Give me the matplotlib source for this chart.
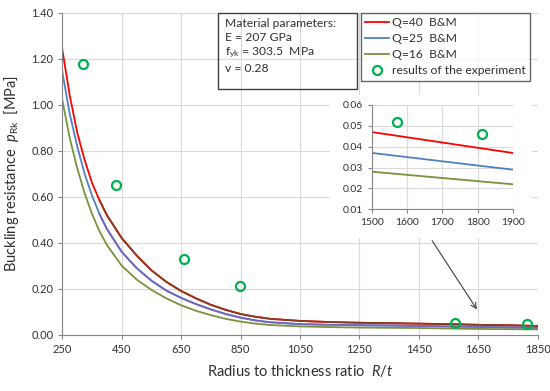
import numpy as np
import matplotlib.pyplot as plt
from matplotlib.patches import Rectangle
from matplotlib.ticker import FormatStrFormatter

plt.rcParams['font.family'] = ['Lato', 'DejaVu Sans']
plt.rcParams['mathtext.fontset'] = 'custom'
plt.rcParams['mathtext.rm'] = 'Lato'
plt.rcParams['mathtext.it'] = 'Lato:italic'

# R/t grid of the curves
r_t = [250, 275, 300, 325, 350, 375, 400, 450, 500, 550, 600, 650, 700, 750, 800,
       850, 900, 950, 1050, 1150, 1250, 1350, 1450, 1550, 1650, 1750, 1850]
q40 = [1.24, 1.04, 0.88, 0.76, 0.66, 0.585, 0.52, 0.42, 0.345, 0.28, 0.23, 0.19, 0.158,
       0.13, 0.108, 0.09, 0.078, 0.069, 0.060, 0.055, 0.052, 0.050, 0.048, 0.046,
       0.043, 0.041, 0.038]
q25 = [1.143, 0.96, 0.82, 0.70, 0.605, 0.525, 0.46, 0.36, 0.29, 0.235, 0.192, 0.16, 0.133,
       0.11, 0.09, 0.074, 0.062, 0.054, 0.046, 0.043, 0.041, 0.040, 0.038, 0.036,
       0.034, 0.032, 0.030]
q16 = [1.02, 0.855, 0.725, 0.615, 0.525, 0.45, 0.39, 0.30, 0.24, 0.195, 0.158, 0.128, 0.104,
       0.085, 0.069, 0.057, 0.048, 0.042, 0.036, 0.033, 0.031, 0.030, 0.029, 0.027,
       0.025, 0.024, 0.023]

# inset (zoom 1500-1900)
r_zoom = [1500, 1600, 1700, 1800, 1900]
q40_zoom = [0.047, 0.0445, 0.042, 0.0395, 0.037]
q25_zoom = [0.037, 0.035, 0.033, 0.031, 0.029]
q16_zoom = [0.028, 0.0265, 0.025, 0.0235, 0.022]

# experiment
r_exp = [320, 430, 660, 847, 1572, 1814]
p_exp = [1.176, 0.651, 0.328, 0.21, 0.052, 0.046]

c_red = '#ff0000'
c_blue = '#4f81bd'
c_green = '#77933c'
c_pts = '#00b050'
c_grid = '#d9d9d9'
c_spine = '#868686'

fig = plt.figure(figsize=(5.5, 3.91), dpi=100)
ax = fig.add_axes([0.1133, 0.144, 0.864, 0.8235])
ax.set_axisbelow(True)

r = np.array(r_t)
late = r >= 375
ax.plot(r_t, q40, color=c_red, lw=1.3, label='Q=40  B&M')
ax.plot(r_t, q25, color=c_blue, lw=1.3, label='Q=25  B&M')
ax.plot(r_t, q16, color=c_green, lw=1.3, label='Q=16  B&M')
# overlapping series in the original (brown / purple tints)
ax.plot(r[late], np.array(q40)[late], color='#8a3b1c', lw=1.3)
ax.plot(r[late], np.array(q25)[late], color='#7466c0', lw=1.3)
ax.plot(r_exp, p_exp, 'o', mfc='none', mec=c_pts, ms=6.5, mew=1.6,
        label='results of the experiment', zorder=4)

ax.set_xlim(250, 1850)
ax.set_ylim(0, 1.4)
ax.set_xticks(np.arange(250, 1851, 200))
ax.set_yticks(np.arange(0, 1.41, 0.2))
ax.yaxis.set_major_formatter(FormatStrFormatter('%.2f'))
ax.grid(True, color=c_grid, lw=0.8)
for s in ['top', 'right']:
    ax.spines[s].set_visible(False)
for s in ['left', 'bottom']:
    ax.spines[s].set_color(c_spine)
ax.tick_params(direction='out', length=3, color=c_spine, labelsize=8, labelcolor='#303030')
ax.set_xlabel('Radius to thickness ratio  $R/t$', fontsize=10.5, color='#303030', labelpad=6)
ax.set_ylabel('Buckling resistance  $p_{\\rm Rk}$  [MPa]', fontsize=10.5, color='#303030', labelpad=7)

# white background of the inset chart
ax.add_patch(Rectangle((0.6, 0.391), 0.367, 0.366, transform=fig.transFigure,
                       facecolor='white', edgecolor='none', zorder=1))

ax.annotate('', xy=(1651, 0.10), xytext=(1490, 0.419),
            arrowprops=dict(arrowstyle='->', color='#404040', lw=0.8), zorder=5)

leg = ax.legend(loc='upper left', bbox_to_anchor=(361 / 550, 1 - 13 / 391),
                bbox_transform=fig.transFigure, fontsize=8.7, frameon=True,
                fancybox=False, edgecolor='#404040', handlelength=2.0,
                handletextpad=0.25, labelspacing=0.42, borderpad=0.35,
                borderaxespad=0)
leg.get_frame().set_linewidth(1.0)
for t in leg.get_texts():
    t.set_color('#303030')

fig.text(218 / 550 + 0.013, 1 - 18 / 391,
         'Material parameters:\nE = 207 GPa\nf$_{\\rm yk}$ = 303.5  MPa\nv = 0.28',
         fontsize=8.7, color='#303030', va='top', ha='left', linespacing=1.3)
fig.patches.append(Rectangle((218 / 550, 1 - 89 / 391), 139 / 550, 76 / 391,
                             transform=fig.transFigure, fill=False,
                             edgecolor='#404040', lw=1.0))

# inset
ins = fig.add_axes([0.6767, 0.4647, 0.2555, 0.2668])
ins.set_axisbelow(True)
ins.plot(r_zoom, q40_zoom, color=c_red, lw=1.3)
ins.plot(r_zoom, q25_zoom, color=c_blue, lw=1.3)
ins.plot(r_zoom, q16_zoom, color=c_green, lw=1.3)
ins.plot(r_exp, p_exp, 'o', mfc='none', mec=c_pts, ms=6.5, mew=1.6)
ins.set_xlim(1500, 1900)
ins.set_ylim(0.01, 0.06)
ins.set_xticks(r_zoom)
ins.set_yticks(np.arange(0.01, 0.0601, 0.01))
ins.yaxis.set_major_formatter(FormatStrFormatter('%.2f'))
ins.grid(True, color=c_grid, lw=0.8)
for s in ['top', 'right']:
    ins.spines[s].set_visible(False)
for s in ['left', 'bottom']:
    ins.spines[s].set_color(c_spine)
ins.tick_params(direction='out', length=3, color=c_spine, labelsize=7.5, labelcolor='#303030')

fig.savefig('out.png', dpi=100)
